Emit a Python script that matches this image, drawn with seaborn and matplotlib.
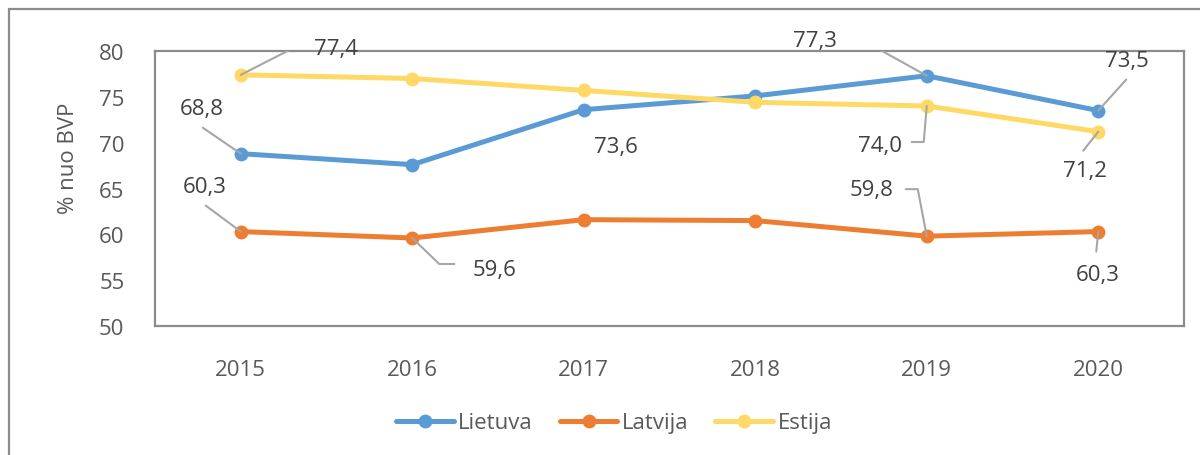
import numpy as np
import pandas as pd
import matplotlib
matplotlib.use('Agg')
from matplotlib import pyplot as plt
from matplotlib.patches import Rectangle
import matplotlib.transforms as mtransforms
import seaborn as sns

plt.close('all')

Years = [2015, 2016, 2017, 2018, 2019, 2020]
Lietuva = [68.8, 67.6, 73.6, 75.1, 77.3, 73.5]
Latvija = [60.3, 59.6, 61.6, 61.5, 59.8, 60.3]
Estija = [77.4, 77.0, 75.7, 74.4, 74.0, 71.2]
Countries = ['Lietuva', 'Latvija', 'Estija']
Colors = ['#5B9BD5', '#ED7D31', '#FFD966']
YTicks = [50, 55, 60, 65, 70, 75, 80]

# (country, year index, text offset px, leader path px)
Labels = [
    ('Lietuva', 0, (-39, 45), [(0, 0), (-38, 26)]),
    ('Lietuva', 2, (32, -37), None),
    ('Lietuva', 4, (-112, 35), [(0, 0), (-65, 36), (-74, 36)]),
    ('Lietuva', 5, (29, 50), [(0, 0), (28, 31)]),
    ('Latvija', 0, (-36, 45), [(0, 0), (-35, 26)]),
    ('Latvija', 1, (82, -31), [(0, 0), (27, -26), (42, -26)]),
    ('Latvija', 4, (-55, 47), [(0, 0), (-9, 47), (-21, 47)]),
    ('Latvija', 5, (-1, -43), [(0, 0), (-2, -20)]),
    ('Estija', 0, (95, 26), [(0, 0), (51, 26), (63, 26)]),
    ('Estija', 4, (-47, -39), [(0, 0), (-3, -36), (-15, -36)]),
    ('Estija', 5, (-13, -39), [(0, 0), (-15, -19)]),
]

Values = {'Lietuva': Lietuva, 'Latvija': Latvija, 'Estija': Estija}
df = pd.DataFrame({'Metai': Years * 3,
                   'Reiksme': Lietuva + Latvija + Estija,
                   'Salis': np.repeat(Countries, len(Years))})

sns.set_style('white')
plt.rcParams['font.family'] = ['Open Sans', 'DejaVu Sans']

fig = plt.figure(figsize=(12, 4.56), dpi=100)
ax = fig.add_axes([155 / 1200, 1 - 327 / 456, (1184 - 155) / 1200, (327 - 52) / 456])

sns.lineplot(data=df, x='Metai', y='Reiksme', hue='Salis',
             hue_order=Countries, palette=Colors,
             marker='o', markersize=10, markeredgewidth=0,
             linewidth=3.6, ax=ax, legend=True)

ax.set_xlim(2014.5, 2020.5)
ax.set_ylim(50, 80)
ax.set_xticks(Years)
ax.set_yticks(YTicks)
ax.tick_params(axis='both', length=0, labelsize=16, colors='#595959')
ax.tick_params(axis='y', pad=22)
ax.tick_params(axis='x', pad=24)
ax.set_xlabel('')
ax.set_ylabel('')
for sp in ax.spines.values():
    sp.set_color('#8C8C8C')
    sp.set_linewidth(1.6)

fig.text(68 / 1200, 1 - 158 / 456, '% nuo BVP', rotation=90,
         ha='center', va='center', fontsize=16, color='#595959')

# data labels
for country, iy, txt, path in Labels:
    xv = Years[iy]
    yv = Values[country][iy]
    lab = f'{yv:.1f}'.replace('.', ',')
    ax.annotate(lab, xy=(xv, yv), xytext=txt, textcoords='offset pixels',
                ha='center', va='center', fontsize=16, color='#404040', zorder=6)
    if path is not None:
        base = ax.transData.transform((xv, yv))
        pts = base + np.array(path)
        ax.plot(pts[:, 0], pts[:, 1], color='#A6A6A6', linewidth=1.5,
                transform=mtransforms.IdentityTransform(), zorder=5)

# legend
ax.get_legend().remove()
h, l = ax.get_legend_handles_labels()
fig.legend(h, l, loc='center', bbox_to_anchor=(614 / 1200, 1 - 424 / 456),
           ncol=3, frameon=False, fontsize=16, handlelength=2.6,
           handletextpad=0.2, columnspacing=1.2, labelcolor='#595959')

# outer chart frame
fig.patches.append(Rectangle((9 / 1200, -0.2), 1.2, 1 - 10 / 456 + 0.2,
                             transform=fig.transFigure, fill=False,
                             edgecolor='#8C8C8C', linewidth=1.6))

fig.savefig('out.png', dpi=100)
